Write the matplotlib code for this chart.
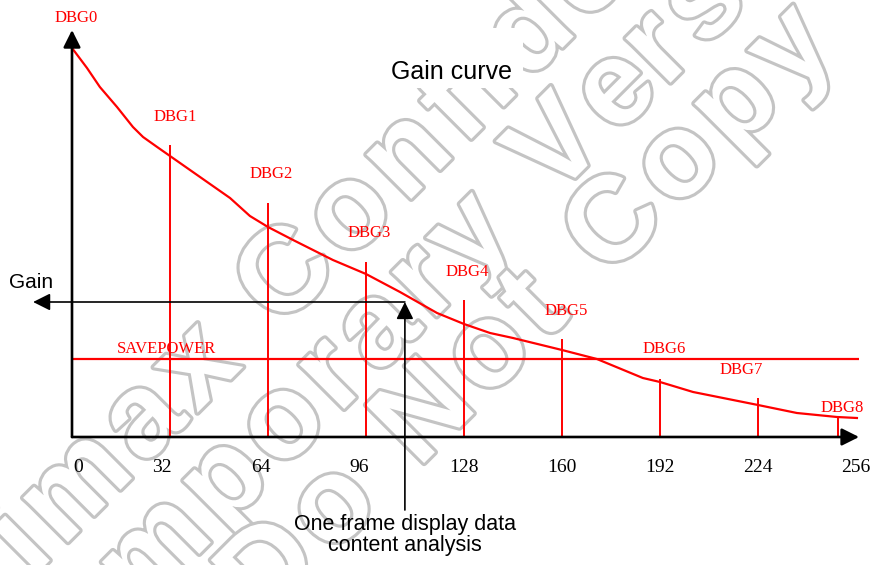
import numpy as np
import matplotlib.pyplot as plt
import matplotlib.patheffects as pe
from matplotlib.patches import Rectangle
from matplotlib.textpath import TextToPath
from matplotlib.font_manager import FontProperties

# gain curve (x = frame data value 0..256, y = gain, arbitrary units)
curve_x = [0, 4.9, 9.1, 14.7, 19.9, 23.2, 27.8, 32, 41.8, 51.6, 58.1, 64, 72.2, 85.2, 96,
           107.1, 119.2, 128, 136.5, 144, 160, 171.4, 186.4, 192, 202.8, 224, 236.7, 249.8, 256.3]
curve_y = [389, 369, 350, 330, 310, 300, 290, 281, 260, 239, 221, 210, 197, 177, 163,
           145, 124, 113, 104, 99, 87, 78, 59, 55, 45, 32, 24, 20, 19]

# DBG sample lines
dbg_x = [32, 64, 96, 128, 160, 192, 224, 250]
dbg_top = [292, 234, 175, 137, 98, 58, 39, 20]
dbg_names = ["DBG0", "DBG1", "DBG2", "DBG3", "DBG4", "DBG5", "DBG6", "DBG7", "DBG8"]
dbg_label_x = [1.3, 33.6, 65, 96.9, 129, 161.3, 193.3, 218.4, 251.4]
dbg_label_y = [419, 320, 263, 204, 165, 126, 88, 67, 29]

savepower = 78
gain_level = 135
frame_value = 108.7

ticks = [0, 32, 64, 96, 128, 160, 192, 224, 256]
tick_shift = [2, -2.6, -2.3, -2.3, 0, 0, 0, 0, 0]

serif = "Liberation Serif"
sans = "Liberation Sans"
red = "#ff0000"
W, H = 873, 565

fig = plt.figure(figsize=(W / 100, H / 100), dpi=100)
ax = fig.add_axes([0, 0, 1, 1])
ax.set_xlim(-23.51, 261.55)
ax.set_ylim(-128, 437)
ax.axis("off")

# watermark: outlined, letter-spaced, at 45 degrees
wm_font = FontProperties(family=sans, weight="bold", size=86)
ttp = TextToPath()
track = 9  # px added after each letter
ang = np.deg2rad(45)
udir = np.array([np.cos(ang), -np.sin(ang)])  # image pixels, y down


def px_width(s):
    return ttp.get_text_width_height_descent(s, wm_font, ismath=False)[0] * 100 / 72


def watermark(s, ref_i, ref_px):
    centers = []
    for i, ch in enumerate(s):
        w_prev = px_width(s[:i]) if i else 0
        centers.append(w_prev + px_width(ch) / 2 + i * track)
    shift = np.array(ref_px) - centers[ref_i] * udir
    for ch, c in zip(s, centers):
        if ch == " ":
            continue
        px, py = shift + c * udir
        ax.text(px / W, 1 - py / H, ch, transform=fig.transFigure, fontproperties=wm_font,
                rotation=45, rotation_mode="anchor", ha="center", va="center",
                color="white", zorder=0, clip_on=False,
                path_effects=[pe.withStroke(linewidth=4.5, foreground="#c4c4c4")])


watermark("Himax Confidential", 6, (289, 278))
watermark("Temporary Version", 8, (472, 238))
watermark("Do Not Copy", 7, (617, 227))

# axes arrows
arrow_axis = dict(arrowstyle="-|>", color="black", lw=1.9, mutation_scale=26,
                  shrinkA=0, shrinkB=0)
ax.annotate("", xy=(0, 407), xytext=(0, 0), arrowprops=arrow_axis, zorder=3)
ax.annotate("", xy=(257, 0), xytext=(0, 0), arrowprops=arrow_axis, zorder=3)

# red lines
ax.plot(curve_x, curve_y, color=red, lw=1.6, zorder=2)
ax.vlines(dbg_x, 0, dbg_top, color=red, lw=1.4, zorder=2)
ax.hlines(savepower, 0, 257, color=red, lw=1.6, zorder=2)

for name, lx, ly in zip(dbg_names, dbg_label_x, dbg_label_y):
    ax.text(lx, ly, name, color=red, family=serif, fontsize=12, ha="center", va="center", zorder=4)
ax.text(30.7, savepower + 10, "SAVEPOWER", color=red, family=serif, fontsize=12,
        ha="center", va="center", zorder=4)

# gain lookup arrows
arrow_thin = dict(arrowstyle="-|>", color="black", lw=1.2, mutation_scale=26,
                  shrinkA=0, shrinkB=0)
ax.annotate("", xy=(-12.7, gain_level), xytext=(frame_value, gain_level),
            arrowprops=arrow_thin, zorder=3)
ax.annotate("", xy=(frame_value, gain_level), xytext=(frame_value, -73),
            arrowprops=arrow_thin, zorder=3)

for t, s in zip(ticks, tick_shift):
    ax.text(t + s, -30, str(t), family=serif, fontsize=14, ha="center", va="center", zorder=4)

ax.text(-13.5, 154, "Gain", family=sans, fontsize=15, ha="center", va="center", zorder=4)
ax.text(frame_value, -98, "One frame display data\ncontent analysis", family=sans,
        fontsize=15.5, ha="center", va="center", linespacing=1.0, zorder=4)

ax.add_patch(Rectangle(((363 - 72) / 3.0625, 437 - 88), 160 / 3.0625, 60,
                       facecolor="white", edgecolor="none", zorder=1))
ax.text((451 - 72) / 3.0625, 437 - 72, "Gain curve", family=sans, fontsize=18,
        ha="center", va="center", zorder=4)

fig.savefig("out.png", dpi=100)
